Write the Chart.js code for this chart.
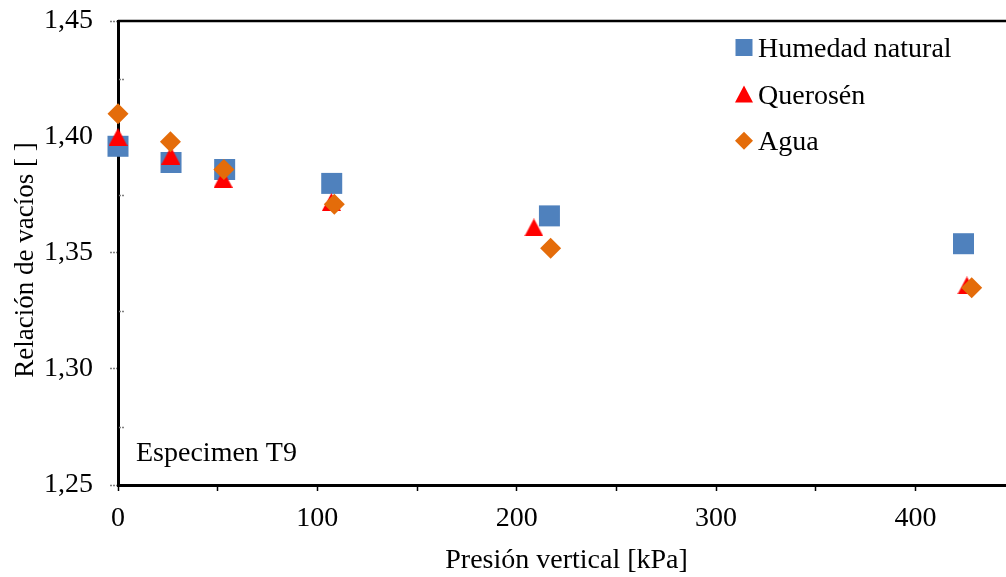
<!DOCTYPE html>
<html>
<head>
<meta charset="utf-8">
<script src="https://cdn.jsdelivr.net/npm/chart.js@4/dist/chart.umd.min.js"></script>
<style>
  html, body { margin: 0; padding: 0; background: #fff; overflow: hidden; }
  #wrap { width: 1006px; height: 577px; overflow: hidden; }
  canvas { display: block; }
</style>
</head>
<body>
<div id="wrap"><canvas id="chart" width="1030" height="577"></canvas></div>
<script>
// vertical pressure [kPa] and void ratio for each specimen condition
const seriesNames = ['Humedad natural', 'Querosén', 'Agua'];
const humedadX = [0, 26.6, 53.5, 107.2, 216.4, 424.1];
const humedadY = [1.396, 1.389, 1.386, 1.380, 1.366, 1.354];
const queroseneX = [0, 26.5, 52.7, 107.0, 208.6, 425.8];
const queroseneY = [1.400, 1.392, 1.382, 1.372, 1.361, 1.336];
const aguaX = [0, 26.3, 53.1, 108.5, 217.0, 428.2];
const aguaY = [1.410, 1.398, 1.386, 1.371, 1.352, 1.335];
const noteText = 'Especimen T9';
const yTitle = 'Relación de vacíos [ ]';

const FONT = "'Liberation Serif', 'Times New Roman', serif";
const BLUE = '#4f81bd', RED = '#ff0000', ORANGE = '#e46c0a';

function toPoints(xs, ys) {
    return xs.map((x, i) => ({ x: x, y: ys[i] }));
}

// upright triangle whose box is centred on the point
function trianglePoint(w, h, color) {
    const c = document.createElement('canvas');
    c.width = w; c.height = h;
    const g = c.getContext('2d');
    g.fillStyle = color;
    g.beginPath();
    g.moveTo(w / 2, 0);
    g.lineTo(w, h);
    g.lineTo(0, h);
    g.closePath();
    g.fill();
    return c;
}

function drawMarker(ctx, kind, cx, cy, color) {
    ctx.fillStyle = color;
    ctx.beginPath();
    if (kind === 'square') {
        ctx.rect(cx - 8.5, cy - 8.5, 17, 17);
    } else if (kind === 'triangle') {
        ctx.moveTo(cx, cy - 8.5);
        ctx.lineTo(cx + 9, cy + 8.5);
        ctx.lineTo(cx - 9, cy + 8.5);
        ctx.closePath();
    } else {
        ctx.moveTo(cx, cy - 9);
        ctx.lineTo(cx + 9, cy);
        ctx.lineTo(cx, cy + 9);
        ctx.lineTo(cx - 9, cy);
        ctx.closePath();
    }
    ctx.fill();
}

const decorPlugin = {
    id: 'decor',
    beforeDatasetsDraw(chart) {
        const ctx = chart.ctx;
        const a = chart.chartArea;
        const y = chart.scales.y;
        ctx.save();
        // top frame line
        ctx.strokeStyle = '#000';
        ctx.lineWidth = 2.5;
        ctx.beginPath();
        ctx.moveTo(a.left, a.top);
        ctx.lineTo(a.right, a.top);
        ctx.stroke();
        // minor ticks on the inside of the y axis
        ctx.strokeStyle = '#808080';
        ctx.lineWidth = 1.5;
        ctx.setLineDash([2, 1]);
        [1.275, 1.325, 1.375, 1.425].forEach(v => {
            const py = Math.round(y.getPixelForValue(v)) + 0.5;
            ctx.beginPath();
            ctx.moveTo(a.left + 1, py);
            ctx.lineTo(a.left + 7, py);
            ctx.stroke();
        });
        ctx.setLineDash([]);
        ctx.fillStyle = '#000';
        ctx.textBaseline = 'alphabetic';
        // y axis title, sitting a little below the middle of the axis
        ctx.save();
        ctx.font = '27px ' + FONT;
        ctx.translate(33, (a.top + a.bottom) / 2 + 7);
        ctx.rotate(-Math.PI / 2);
        ctx.textAlign = 'center';
        ctx.fillText(yTitle, 0, 0);
        ctx.restore();
        // note in the lower left corner
        ctx.font = '28px ' + FONT;
        ctx.textAlign = 'left';
        ctx.fillText(noteText, a.left + 18, a.bottom - 24);
        ctx.restore();
    },
    afterDatasetsDraw(chart) {
        const ctx = chart.ctx;
        const a = chart.chartArea;
        const kinds = ['square', 'triangle', 'diamond'];
        const colors = [BLUE, RED, ORANGE];
        ctx.save();
        ctx.font = '28px ' + FONT;
        ctx.textBaseline = 'alphabetic';
        ctx.textAlign = 'left';
        seriesNames.forEach((name, i) => {
            const cx = a.left + 626;
            const cy = a.top + 26.5 + i * 46.6;
            drawMarker(ctx, kinds[i], cx, cy, colors[i]);
            ctx.fillStyle = '#000';
            ctx.fillText(name, cx + 14, cy + 9.5);
        });
        ctx.restore();
    }
};

new Chart(document.getElementById('chart'), {
    type: 'scatter',
    data: {
        datasets: [
            { label: seriesNames[0], data: toPoints(humedadX, humedadY), order: 3,
              pointStyle: 'rect', pointRadius: 14.85, pointHoverRadius: 14.85,
              backgroundColor: BLUE, borderColor: BLUE, borderWidth: 0, clip: false },
            { label: seriesNames[1], data: toPoints(queroseneX, queroseneY), order: 2,
              pointStyle: trianglePoint(19, 18, RED), pointRadius: 10, pointHoverRadius: 10,
              backgroundColor: RED, borderColor: RED, borderWidth: 0, clip: false },
            { label: seriesNames[2], data: toPoints(aguaX, aguaY), order: 1,
              pointStyle: 'rectRot', pointRadius: 10.5, pointHoverRadius: 10.5,
              backgroundColor: ORANGE, borderColor: ORANGE, borderWidth: 0, clip: false }
        ]
    },
    options: {
        responsive: false,
        animation: false,
        layout: { padding: { left: 0, top: 21, right: 13, bottom: 0 } },
        plugins: { legend: { display: false }, tooltip: { enabled: false } },
        scales: {
            x: {
                type: 'linear', min: 0, max: 450,
                afterFit: s => { s.height = 92; s.paddingLeft = 0; s.paddingRight = 0; },
                border: { color: '#000', width: 3 },
                grid: { drawOnChartArea: false, tickLength: 6, tickColor: '#000', tickWidth: 1.5 },
                ticks: {
                    stepSize: 50, includeBounds: false, padding: 11, color: '#000',
                    font: { family: FONT, size: 28 },
                    callback: v => (v % 100 === 0 ? v : '')
                },
                title: {
                    display: true, text: 'Presión vertical [kPa]', color: '#000',
                    font: { family: FONT, size: 28 }, padding: { top: 0, bottom: 0 }
                }
            },
            y: {
                type: 'linear', min: 1.25, max: 1.45,
                afterFit: s => { s.width = 118; s.paddingTop = 0; s.paddingBottom = 0; },
                border: { color: '#000', width: 3 },
                grid: { drawOnChartArea: false, tickLength: 8, tickColor: '#808080', tickWidth: 1.5, tickBorderDash: [2, 1] },
                ticks: {
                    stepSize: 0.05, padding: 17, color: '#000',
                    font: { family: FONT, size: 28 },
                    callback: v => v.toFixed(2).replace('.', ',')
                }
            }
        }
    },
    plugins: [decorPlugin]
});
</script>
</body>
</html>
